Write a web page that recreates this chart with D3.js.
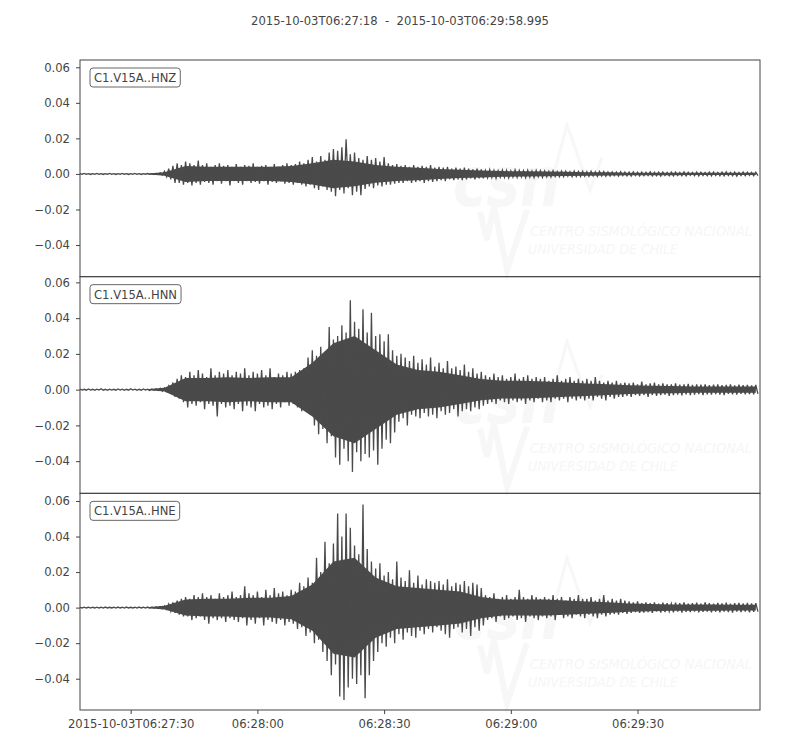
<!DOCTYPE html>
<html>
<head>
<meta charset="utf-8">
<script src="https://cdn.jsdelivr.net/npm/d3@7"></script>
<style>
  body { margin: 0; background: #fff; }
  text { font-family: "DejaVu Sans", sans-serif; fill: #444; }
  .tick line, .domain { stroke: #444; }
</style>
</head>
<body>
<script>
// Trace window
var startTime = "2015-10-03T06:27:18Z"
var endTime = "2015-10-03T06:29:58.995Z"
var titleText = "2015-10-03T06:27:18  -  2015-10-03T06:29:58.995"
var channels = ["C1.V15A..HNZ", "C1.V15A..HNN", "C1.V15A..HNE"]
// y range of each panel
var yDomains = [[-0.0578, 0.0641], [-0.0580, 0.0632], [-0.0576, 0.0643]]

// Tick labels
var xTickTimes = ["2015-10-03T06:27:30Z", "2015-10-03T06:28:00Z", "2015-10-03T06:28:30Z", "2015-10-03T06:29:00Z", "2015-10-03T06:29:30Z"]
var xTickLabels = ["2015-10-03T06:27:30", "06:28:00", "06:28:30", "06:29:00", "06:29:30"]
var yTicks = [0.06, 0.04, 0.02, 0.00, -0.02, -0.04]

// Envelope of each trace, one max / min pair per second from startTime (units of 1e-3)
var hnzHi = [0.2,0.3,0.2,0.2,0.3,0.2,0.2,0.3,0.2,0.2,
  0.3,0.2,0.2,0.3,0.2,0.2,0.3,0.2,0.3,0.6,
  1.5,3,4.5,6,5,7,6,5,7.5,5,
  6,4,5,6,4.5,5,4,5.5,4,5,
  4.5,6,4,4.5,5,4,5.5,4,5,6,
  5,5.5,7,6,8,9.5,7,10,8,12,
  14,13,15,19.5,11,12,9,8,10,8,
  9,7,9.5,6,5,5.5,4.5,5,4,5,
  4,4.5,4,5,3.5,4,3.5,4,3,3.5,
  3,3.5,3,2.5,3,2.5,2,2.5,2,1.8,
  2.2,2,1.7,2.3,2,1.8,2.1,1.6,2,1.9,
  1.7,1.5,1.8,1.4,1.6,1.5,1.3,1.6,1.4,1.5,
  1.3,1.5,1.2,1.4,1.3,1.1,1.2,1,1.3,1.1,
  1,1.2,0.9,1.1,1,1.2,0.9,1,1.1,0.9,
  1,1.1,0.9,1.2,1,0.9,1.1,1,0.8,1,
  1.1,0.9,1,1.2,0.9,1,0.8,1.1,1,0.9,1]
var hnzLo = [-0.2,-0.2,-0.3,-0.2,-0.2,-0.3,-0.2,-0.2,-0.3,-0.2,
  -0.2,-0.3,-0.2,-0.2,-0.3,-0.2,-0.2,-0.3,-0.2,-0.6,
  -1.5,-3,-5,-5,-6,-5,-6.5,-5,-6,-4.5,
  -5,-6,-4,-5.5,-4,-6.5,-4,-5,-6,-4,
  -5,-4.5,-5.5,-4,-6,-4.5,-5,-4,-5.5,-5,
  -6,-5,-6,-7,-6,-8,-9,-7,-9,-10,
  -12.5,-9,-11,-8,-12,-10,-12,-8.5,-7,-8,
  -6.5,-7,-6,-6,-5.5,-5,-5,-4,-5,-4.5,
  -4,-5,-4,-4.5,-4,-3.5,-4,-3,-3.5,-3,
  -3.5,-3,-2.5,-3,-2.5,-2.5,-2.2,-2,-2.4,-1.9,
  -2,-2.2,-1.8,-2,-1.7,-2.1,-1.8,-2,-1.6,-1.9,
  -1.6,-1.7,-1.4,-1.6,-1.5,-1.3,-1.6,-1.4,-1.5,-1.3,
  -1.4,-1.2,-1.4,-1.1,-1.3,-1.2,-1,-1.2,-1,-1.1,
  -1.2,-0.9,-1.1,-1,-0.9,-1.1,-1,-1.2,-0.9,-1,
  -1.1,-0.9,-1,-1.1,-0.8,-1,-1.1,-0.9,-1,-1.1,
  -0.9,-1,-1.1,-0.9,-1,-1.2,-0.9,-1,-0.8,-1,-0.9]

var hnnHi = [0.3,0.2,0.4,0.2,0.3,0.5,0.2,0.3,0.2,0.4,
  0.3,0.2,0.5,0.3,0.2,0.4,0.3,0.4,0.5,0.8,
  1,2,4,6,8,7,10,8,11,9,
  7,12,8,10,9,11,8,10,9,12,
  8,10,9,11,8,12,7,9,8,10,
  9,10,11,12,18,22,19,24,21,35,
  28,30,36,32,50,38,34,45,32,43,
  30,31,27,31,22,19,20,18,16,19,
  15,17,14,18,13,15,12,16,12,13,
  11,14,10,12,9,10,8,7,9,7,
  8,6,7,9,6,7,8,6,7,6,
  7,5,6,8,5,6,7,5,6,5,
  6,5,7,5,4,5,4,5,3.5,4,
  3.5,4,3,4.5,3,3.5,4,3,3.5,3,
  3,3.5,2.8,3,3.2,2.6,3,2.8,3,2.5,
  2.8,3,2.5,2.7,3,2.4,2.8,2.5,2.7,2.4,2.6]
var hnnLo = [-0.2,-0.3,-0.2,-0.4,-0.2,-0.3,-0.4,-0.2,-0.3,-0.2,
  -0.4,-0.3,-0.2,-0.4,-0.3,-0.2,-0.4,-0.3,-0.4,-0.8,
  -1,-2,-4,-5,-7,-10,-8,-9,-7,-11,
  -8,-9,-15,-8,-10,-9,-11,-8,-12,-9,
  -10,-12,-8,-10,-9,-11,-8,-10,-7,-9,
  -8,-10,-12,-11,-14,-20,-25,-22,-30,-26,
  -38,-42,-33,-40,-46,-35,-40,-36,-38,-34,
  -42,-33,-28,-30,-24,-18,-16,-20,-14,-15,
  -16,-13,-15,-14,-16,-12,-14,-13,-11,-15,
  -12,-11,-12,-10,-11,-9,-8,-7,-8,-6,
  -7,-8,-6,-7,-6,-8,-6,-7,-5,-7,
  -6,-7,-5,-6,-5,-7,-5,-6,-5,-6,
  -5,-6,-4,-5,-6,-4,-5,-4,-4,-3.5,
  -4,-3,-3.5,-3,-4,-3,-3.5,-3,-2.8,-3.5,
  -3,-2.8,-3.2,-2.6,-3,-2.8,-2.5,-3,-2.6,-2.8,
  -2.5,-2.8,-3,-2.4,-2.6,-2.8,-2.4,-2.6,-2.5,-2.7,-2.4]

var hneHi = [0.2,0.3,0.2,0.2,0.3,0.2,0.3,0.2,0.2,0.3,
  0.2,0.3,0.2,0.2,0.3,0.2,0.3,0.2,0.3,0.6,
  1,2,3,4,5,6,5,7,6,8,
  6,7,5,8,6,7,9,6,7,12,
  8,7,9,6,10,7,11,8,9,7,
  10,9,14,12,17,14,28,20,37,25,
  36,53,40,53,45,35,30,58,33,26,
  22,25,18,20,16,26,17,15,21,14,
  18,13,16,15,14,15,13,16,12,14,
  13,15,12,14,13,11,7,6,8,5,
  6,7,5,6,10,6,5,7,6,5,
  6,5,7,5,6,4,6,5,7,5,
  5,6,4,5,7,4,5,4,5,4,
  3.5,3,3.5,2.5,3,2.5,3,2.2,2.8,2.5,
  2.2,2.8,2.5,3,2.2,2.5,2.8,2.2,3,2.5,
  2.2,2.6,2.4,2.8,2.2,2.5,2.7,2.3,2.6,2.4,2.5]
var hneLo = [-0.2,-0.2,-0.3,-0.2,-0.2,-0.3,-0.2,-0.2,-0.3,-0.2,
  -0.3,-0.2,-0.2,-0.3,-0.2,-0.3,-0.2,-0.2,-0.3,-0.6,
  -1,-2,-3,-4,-5,-5,-7,-6,-5,-7,
  -9,-6,-7,-6,-8,-6,-7,-8,-6,-10,
  -7,-9,-6,-10,-7,-8,-9,-7,-10,-8,
  -9,-12,-11,-16,-14,-20,-18,-25,-30,-38,
  -32,-50,-52,-45,-40,-43,-38,-51,-38,-30,
  -25,-20,-22,-17,-20,-15,-18,-14,-16,-17,
  -13,-15,-12,-14,-11,-13,-15,-17,-12,-11,
  -14,-12,-16,-11,-13,-10,-7,-6,-8,-5,
  -7,-6,-5,-7,-6,-8,-5,-6,-7,-5,
  -6,-5,-7,-4,-6,-5,-6,-4,-5,-6,
  -4,-5,-6,-4,-5,-4,-3.5,-4,-3,-3.5,
  -3,-2.5,-3,-2.8,-2.5,-3,-2.2,-2.8,-2.5,-2.2,
  -2.6,-2.2,-2.8,-2.4,-2.5,-2.2,-2.7,-2.4,-2.2,-2.6,
  -2.3,-2.6,-2.2,-2.5,-2.8,-2.3,-2.5,-2.2,-2.6,-2.4,-2.3]

// Dense core of each trace (± amplitude), every 5 s from startTime (units of 1e-3)
var hnzCore = [0.1,0.1,0.1,0.1,1,4.5,4,4,4,4,4.5,6,8,7,5,4,3.5,2.8,2.3,2,1.6,1.5,1.3,1.2,1,0.9,0.7,0.7,0.7,0.6,0.6,0.6,0.6]
var hnnCore = [0.1,0.1,0.1,0.1,1,6.5,6.5,7,6.5,7,7,15,26,30,22,14,11,10,8,6,5,5,4.5,4,3.5,3,2.5,2.2,2,1.8,1.7,1.7,1.7]
var hneCore = [0.1,0.1,0.1,0.1,1,4.5,5,5,5.5,5.5,6.5,13,26,28,17,12,11,10,9,6,4.5,4.5,4.5,4,3.5,3,2.3,2,1.8,1.7,1.7,1.6,1.6]

var traces = [[hnzHi, hnzLo, hnzCore], [hnnHi, hnnLo, hnnCore], [hneHi, hneLo, hneCore]]

var svg_width = 800
var svg_height = 750
var margin = { top: 60, right: 40, bottom: 40, left: 80 }
var width = svg_width - margin.left - margin.right
var panelH = (svg_height - margin.top - margin.bottom) / 3
var fontSize = "11.6px"
var waveColor = "#4a4a4a"

var svg = d3.select("body")
  .append("svg")
  .attr("width", svg_width)
  .attr("height", svg_height)

var t0 = new Date(startTime)
var xScale = d3.scaleUtc()
  .domain([t0, new Date(endTime)])
  .range([0, width])
var xAt = s => xScale(new Date(t0.getTime() + s * 1000))

// Title
svg.append("text")
  .attr("x", svg_width / 2)
  .attr("y", 25)
  .attr("text-anchor", "middle")
  .style("font-size", fontSize)
  .style("white-space", "pre")
  .text(titleText)

// sample i -> max at i s, min at i + 0.5 s
function zigzag(hi, lo) {
  var pts = []
  hi.forEach(function(v, i) {
    pts.push([i, v / 1000])
    pts.push([i + 0.5, lo[i] / 1000])
  })
  return pts
}

traces.forEach(function(tr, k) {
  var yScale = d3.scaleLinear()
    .domain(yDomains[k])
    .range([panelH, 0])

  var line = d3.line()
    .x(d => xAt(d[0]))
    .y(d => yScale(d[1]))

  var band = d3.area()
    .x((d, i) => xAt(i * 5))
    .y1(d => yScale(d / 1000))
    .y0(d => yScale(-d / 1000))

  var g = svg.append("g")
    .attr("transform", `translate(${margin.left}, ${margin.top + k * panelH})`)

  // faint CSN watermark
  var wm = g.append("g").attr("class", "watermark")
  wm.append("text")
    .attr("x", 373).attr("y", 146)
    .attr("textLength", 107).attr("lengthAdjust", "spacingAndGlyphs")
    .style("font-size", "70px").style("font-weight", "bold").style("font-style", "italic")
    .style("fill", "#f7f7f7")
    .text("csn")
  wm.append("path")
    .attr("d", "M470,128 L487,65 L510,130 L522,98")
    .attr("fill", "none").attr("stroke", "#f7f7f7").attr("stroke-width", 3)
  wm.append("path")
    .attr("d", "M400,152 L407,180 L414,146 L427,210 L447,150")
    .attr("fill", "none").attr("stroke", "#f7f7f7").attr("stroke-width", 6)
  wm.append("text")
    .attr("x", 450).attr("y", 176)
    .attr("textLength", 222).attr("lengthAdjust", "spacingAndGlyphs")
    .style("font-size", "14px").style("font-style", "italic")
    .style("fill", "#f6f6f6")
    .text("CENTRO SISMOLÓGICO NACIONAL")
  wm.append("text")
    .attr("x", 448).attr("y", 194)
    .attr("textLength", 150).attr("lengthAdjust", "spacingAndGlyphs")
    .style("font-size", "14px").style("font-style", "italic")
    .style("fill", "#f6f6f6")
    .text("UNIVERSIDAD DE CHILE")

  // waveform: dense core plus trace
  g.append("path")
    .datum(tr[2])
    .attr("d", band)
    .attr("fill", waveColor)
  g.append("path")
    .datum(zigzag(tr[0], tr[1]))
    .attr("d", line)
    .attr("fill", "none")
    .attr("stroke", waveColor)
    .attr("stroke-width", 1.3)

  // y axis
  var yAxis = g.append("g")
    .call(d3.axisLeft(yScale).tickValues(yTicks).tickFormat(d3.format(".2f")).tickSize(4).tickPadding(6))
  yAxis.select(".domain").remove()
  yAxis.selectAll("text").style("font-size", fontSize)

  // frame
  g.append("rect")
    .attr("width", width).attr("height", panelH)
    .attr("fill", "none").attr("stroke", "#444").attr("stroke-width", 1)

  // channel label
  var lbl = g.append("g").attr("transform", "translate(10, 8)")
  var tx = lbl.append("text")
    .attr("x", 4).attr("y", 14)
    .style("font-size", fontSize)
    .text(channels[k])
  var bw = tx.node().getComputedTextLength() + 8
  lbl.insert("rect", "text")
    .attr("width", bw).attr("height", 19)
    .attr("rx", 3)
    .attr("fill", "#fff").attr("stroke", "#666").attr("stroke-width", 1)

  if (k == 2) {
    var xAxis = g.append("g")
      .attr("transform", `translate(0, ${panelH})`)
      .call(d3.axisBottom(xScale)
        .tickValues(xTickTimes.map(s => new Date(s)))
        .tickFormat((d, i) => xTickLabels[i])
        .tickSize(4).tickPadding(6))
    xAxis.select(".domain").remove()
    xAxis.selectAll("text").style("font-size", fontSize)
  }
})
</script>
</body>
</html>
